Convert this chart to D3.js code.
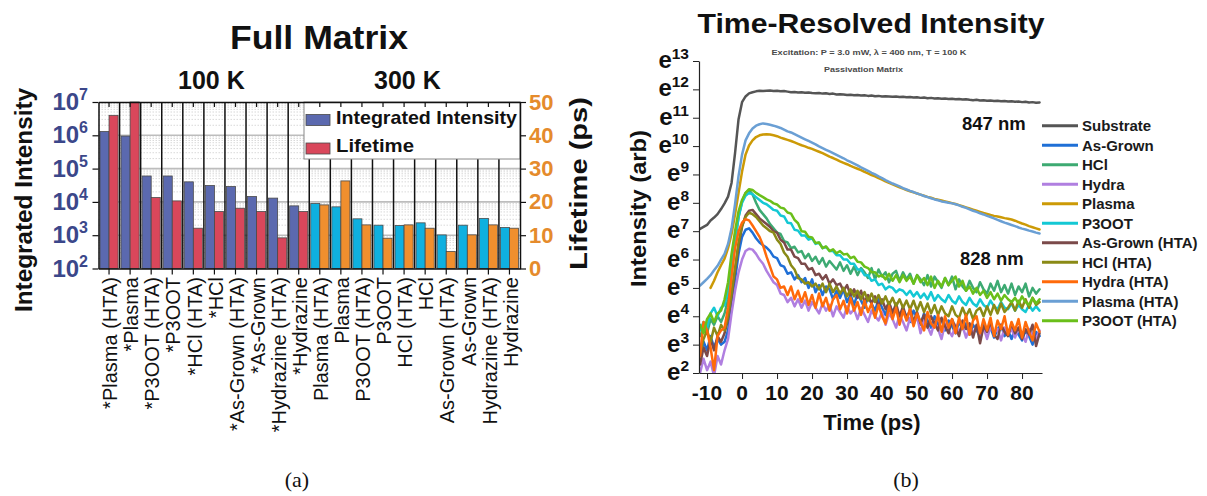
<!DOCTYPE html>
<html>
<head>
<meta charset="utf-8">
<script src="https://cdn.jsdelivr.net/npm/d3@7"></script>
<style>
  body { margin: 0; background: #fff; }
  svg { display: block; font-family: "Liberation Sans", Arial, sans-serif; }
</style>
</head>
<body>
<svg id="chart" width="1207" height="496"></svg>
<script>
// ---------------- Panel (a): integrated intensity and lifetime per sample ----------------
const categories = [
  "*Plasma (HTA)", "*Plasma", "*P3OOT (HTA)", "*P3OOT", "*HCl (HTA)", "*HCl",
  "*As-Grown (HTA)", "*As-Grown", "*Hydrazine (HTA)", "*Hydrazine",
  "Plasma (HTA)", "Plasma", "P3OOT (HTA)", "P3OOT", "HCl  (HTA)", "HCl",
  "As-Grown (HTA)", "As-Grown", "Hydrazine (HTA)", "Hydrazine"
];
const temperatureGroups = ["100 K", "300 K"];
const integratedIntensity = [
  1.3e6, 9.5e5, 6.0e4, 6.0e4, 4.0e4, 3.1e4, 2.9e4, 1.45e4, 1.3e4, 7.6e3,
  8.9e3, 7.1e3, 3.1e3, 2.0e3, 1.95e3, 2.35e3, 1.02e3, 2.0e3, 3.2e3, 1.7e3
];
const lifetimePs = [
  46.0, 50.0, 21.3, 20.3, 12.1, 17.1, 18.1, 17.1, 9.2, 17.1,
  19.1, 26.3, 13.1, 9.1, 13.1, 12.1, 5.1, 10.1, 13.1, 12.1
];
const intensityTicks = [1e2, 1e3, 1e4, 1e5, 1e6, 1e7];
const lifetimeTicks = [0, 10, 20, 30, 40, 50];

// ---------------- Panel (b): time-resolved PL, ln(intensity) vs time ----------------
const timePs = [
  -12,-11,-10,-9,-8,-7,-6,-5,-4,-3,
  -2,-1,0,1,2,3,4,5,6,7,
  8,9,10,11,12,13,14,15,16,17,
  18,19,20,21,22,23,24,25,26,27,
  28,29,30,31,32,33,34,35,36,37,
  38,39,40,41,42,43,44,45,46,47,
  48,49,50,51,52,53,54,55,56,57,
  58,59,60,61,62,63,64,65,66,67,
  68,69,70,71,72,73,74,75,76,77,
  78,79,80,81,82,83,84,85
];
const substrateLn = [
  7.08,7.15,7.22,7.38,7.48,7.6,7.78,7.98,8.22,8.7,
  9.75,10.95,11.55,11.75,11.86,11.9,11.93,11.95,11.94,11.95,
  11.96,11.94,11.95,11.93,11.94,11.92,11.9,11.91,11.89,11.9,
  11.88,11.89,11.87,11.86,11.87,11.85,11.86,11.84,11.85,11.82,
  11.83,11.82,11.8,11.81,11.79,11.8,11.78,11.79,11.77,11.78,
  11.76,11.77,11.75,11.76,11.75,11.74,11.75,11.73,11.74,11.72,
  11.73,11.71,11.72,11.7,11.71,11.69,11.7,11.68,11.69,11.67,
  11.68,11.66,11.67,11.65,11.66,11.64,11.65,11.63,11.62,11.63,
  11.61,11.62,11.6,11.61,11.59,11.6,11.58,11.59,11.57,11.58,
  11.56,11.57,11.55,11.56,11.54,11.55,11.53,11.54
];
const asGrownLn = [
  2.6,3.1,2.8,3.3,2.9,3.2,3.0,3.1,3.5,4.3,
  5.3,6.2,6.8,7.05,7.1,6.95,6.75,6.6,6.5,6.42,
  6.3,6.1,6.05,5.8,5.75,5.5,5.55,5.3,5.45,5.2,
  5.35,5.0,5.3,4.85,5.1,4.75,5.05,4.95,4.6,4.9,
  4.65,4.95,4.5,4.75,4.4,4.8,4.55,4.3,4.7,4.45,
  4.2,4.6,4.3,4.05,4.45,4.15,4.35,3.9,4.25,4.0,
  3.8,4.2,3.95,3.7,4.1,3.85,3.6,4.0,3.7,3.9,
  3.5,3.85,3.65,3.4,3.8,3.55,3.75,3.35,3.7,3.5,
  3.3,3.75,3.45,3.6,3.25,3.55,3.7,3.3,3.5,3.2,
  3.55,3.35,3.15,3.5,3.3,3.0,3.45,3.3
];
const hclLn = [
  3.3,3.6,3.4,3.9,3.7,4.0,3.8,4.1,4.6,5.5,
  6.6,7.5,8.05,8.35,8.45,8.3,8.0,7.75,7.6,7.45,
  7.25,7.1,6.95,6.9,6.65,6.6,6.4,6.45,6.25,6.3,
  6.05,6.2,5.95,6.1,5.85,6.05,5.75,5.95,5.8,5.65,
  5.9,5.6,5.8,5.5,5.75,5.45,5.7,5.55,5.35,5.7,
  5.3,5.65,5.4,5.55,5.2,5.5,5.6,5.25,5.55,5.3,
  5.5,5.15,5.45,5.3,5.1,5.45,5.05,5.4,5.2,5.0,
  5.35,5.1,5.4,4.95,5.3,5.05,4.9,5.25,5.0,4.85,
  5.2,4.95,4.8,5.15,4.9,5.25,4.85,5.1,4.8,5.15,
  4.75,5.05,4.85,5.15,4.7,5.0,4.8,4.95
];
const hydraLn = [
  2.0,2.5,2.1,2.4,1.9,2.6,2.3,2.8,3.2,4.1,
  4.9,5.55,6.0,6.3,6.38,6.35,6.2,6.0,5.85,5.6,
  5.4,5.2,5.1,4.8,4.75,4.5,4.65,4.35,4.6,4.3,
  4.55,4.2,4.5,4.3,4.1,4.45,4.2,4.4,4.0,4.35,
  4.15,3.95,4.35,4.1,4.25,3.9,4.3,4.05,3.8,4.2,
  4.0,3.85,4.15,3.7,4.1,3.9,3.6,4.05,3.8,3.5,
  3.95,3.7,4.0,3.4,3.85,3.65,3.35,3.8,3.55,3.2,
  3.75,3.5,3.3,3.7,3.45,3.65,3.25,3.6,3.4,3.65,
  3.3,3.6,3.2,3.65,3.4,3.55,3.15,3.6,3.35,3.55,
  3.25,3.6,3.35,3.1,3.55,3.35,3.2,3.5
];
const plasmaLn = [
  null,null,null,5.0,5.25,5.55,5.8,6.03,6.4,6.9,
  7.6,8.35,9.1,9.7,10.02,10.2,10.32,10.38,10.41,10.42,
  10.41,10.38,10.35,10.3,10.26,10.22,10.18,10.13,10.08,10.03,
  9.99,9.94,9.9,9.85,9.8,9.75,9.69,9.63,9.58,9.52,
  9.46,9.41,9.36,9.3,9.25,9.2,9.15,9.09,9.04,8.98,
  8.93,8.87,8.82,8.76,8.7,8.65,8.6,8.55,8.5,8.45,
  8.41,8.37,8.33,8.29,8.25,8.21,8.18,8.14,8.11,8.08,
  8.05,8.02,7.99,7.96,7.92,7.88,7.84,7.8,7.76,7.72,
  7.68,7.64,7.61,7.57,7.54,7.52,7.49,7.46,7.44,7.41,
  7.37,7.32,7.27,7.23,7.18,7.14,7.1,7.06
];
const p3ootLn = [
  3.5,3.8,3.6,4.1,4.3,4.0,4.3,4.4,4.9,5.7,
  6.7,7.5,8.0,8.25,8.35,8.3,8.2,8.1,8.0,7.95,
  7.85,7.75,7.72,7.55,7.52,7.3,7.28,7.05,7.02,6.85,
  6.85,6.7,6.75,6.55,6.6,6.4,6.45,6.3,6.3,6.15,
  6.15,6.0,6.0,5.85,5.85,5.65,5.65,5.45,5.45,5.25,
  5.3,5.1,5.15,4.95,5.05,5.0,4.85,4.95,4.9,4.75,
  4.9,4.7,4.85,4.65,4.8,4.6,4.85,4.55,4.75,4.6,
  4.5,4.75,4.55,4.45,4.7,4.5,4.4,4.65,4.45,4.35,
  4.6,4.4,4.3,4.55,4.35,4.25,4.5,4.3,4.25,4.45,
  4.2,4.4,4.25,4.15,4.4,4.2,4.35,4.2
];
const asGrownHtaLn = [
  2.3,2.9,2.6,3.2,2.8,3.3,3.1,3.4,3.9,4.7,
  5.6,6.5,7.15,7.55,7.72,7.75,7.6,7.45,7.35,7.25,
  7.15,7.0,6.95,6.7,6.6,6.35,6.35,6.1,6.05,5.85,
  5.85,5.65,5.7,5.45,5.5,5.3,5.45,5.15,5.3,5.1,
  5.15,4.9,5.1,4.75,4.95,4.65,4.9,4.5,4.75,4.45,
  4.7,4.35,4.6,4.25,4.5,4.1,4.45,4.0,4.35,3.9,
  4.25,3.8,4.15,3.75,4.05,3.6,4.0,3.75,3.5,3.95,
  3.65,3.4,3.9,3.6,3.3,3.85,3.55,3.75,3.25,3.7,
  3.05,3.65,3.45,3.8,3.35,3.2,3.7,3.45,3.3,3.75,
  3.4,3.6,3.2,3.55,3.35,3.7,2.95,3.4
];
const hclHtaLn = [
  2.7,3.2,3.5,3.1,3.6,3.3,3.7,3.5,4.0,4.8,
  5.7,6.6,7.2,7.5,7.65,7.6,7.5,7.35,7.2,7.1,
  7.0,6.95,6.7,6.55,6.25,6.1,5.8,5.65,5.35,5.3,
  5.15,5.2,5.05,5.15,4.95,5.15,4.85,5.15,4.85,5.05,
  4.8,5.0,4.7,4.95,4.7,4.9,4.6,4.85,4.55,4.8,
  4.5,4.75,4.45,4.7,4.4,4.65,4.35,4.6,4.3,4.55,
  4.25,4.55,4.2,4.5,4.15,4.45,4.1,4.4,4.05,4.35,
  4.1,4.0,4.35,4.05,3.95,4.3,4.0,4.25,3.9,4.2,
  4.3,4.0,4.35,4.05,4.4,4.1,4.45,4.15,4.3,4.5,
  4.2,4.55,4.3,4.6,4.3,4.65,4.4,4.5
];
const hydraHtaLn = [
  2.6,3.8,3.5,2.9,2.1,3.3,3.5,3.6,4.3,5.4,
  6.4,7.0,7.3,7.42,7.38,7.2,7.0,6.8,6.5,6.1,
  5.75,5.4,5.3,5.0,5.05,4.75,5.05,4.6,4.9,4.5,
  4.85,4.4,4.75,4.3,4.8,4.35,4.65,4.2,4.6,4.75,
  4.25,4.55,4.1,4.65,4.2,4.5,4.05,4.55,4.15,4.45,
  3.95,4.4,4.0,3.75,4.35,3.9,4.3,3.7,4.2,3.85,
  4.25,3.65,4.1,3.8,3.5,4.15,3.75,3.6,4.05,3.45,
  4.0,3.6,3.9,3.4,3.95,3.55,4.05,3.35,3.85,4.0,
  3.4,3.9,3.5,3.95,3.3,3.85,3.55,4.0,3.35,3.8,
  3.5,3.9,3.25,3.8,3.45,3.15,3.75,3.45
];
const plasmaHtaLn = [
  5.08,5.2,5.32,5.45,5.62,5.78,6.0,6.2,6.55,7.1,
  7.95,8.95,9.7,10.2,10.45,10.62,10.72,10.77,10.8,10.78,
  10.75,10.72,10.68,10.64,10.58,10.52,10.48,10.42,10.36,10.3,
  10.24,10.18,10.12,10.06,9.99,9.93,9.87,9.81,9.75,9.69,
  9.63,9.57,9.5,9.44,9.38,9.32,9.25,9.19,9.13,9.06,
  9.0,8.93,8.87,8.8,8.74,8.68,8.63,8.58,8.52,8.47,
  8.42,8.38,8.33,8.29,8.24,8.2,8.16,8.12,8.09,8.05,
  8.03,8.0,7.98,7.95,7.91,7.86,7.82,7.77,7.72,7.68,
  7.63,7.59,7.54,7.5,7.45,7.4,7.35,7.3,7.26,7.22,
  7.18,7.13,7.09,7.06,7.02,6.99,6.95,6.92
];
const p3ootHtaLn = [
  3.7,3.4,3.9,4.1,3.8,4.1,4.2,4.6,5.2,6.2,
  7.0,7.7,8.1,8.35,8.48,8.45,8.35,8.27,8.2,8.12,
  8.07,7.98,7.94,7.83,7.8,7.66,7.62,7.4,7.28,7.0,
  6.98,6.8,6.78,6.58,6.6,6.4,6.46,6.3,6.36,6.22,
  6.3,6.18,6.2,6.05,6.1,5.92,5.9,5.75,5.7,5.55,
  5.55,5.4,5.45,5.3,5.5,5.25,5.45,5.2,5.45,5.25,
  5.4,5.15,5.45,5.2,5.35,5.1,5.4,5.0,5.25,5.05,
  5.35,5.1,5.25,5.4,5.05,5.25,4.9,5.05,4.8,5.0,
  4.75,4.9,4.65,4.85,4.6,4.8,4.55,4.75,4.6,4.5,
  4.65,4.45,4.7,4.5,4.4,4.65,4.45,4.6
];
const seriesNames = [
  "Substrate", "As-Grown", "HCl", "Hydra", "Plasma", "P3OOT",
  "As-Grown (HTA)", "HCl (HTA)", "Hydra (HTA)", "Plasma (HTA)", "P3OOT (HTA)"
];
const seriesValues = [
  substrateLn, asGrownLn, hclLn, hydraLn, plasmaLn, p3ootLn,
  asGrownHtaLn, hclHtaLn, hydraHtaLn, plasmaHtaLn, p3ootHtaLn
];
const seriesColors = [
  "#555555", "#1f6fd6", "#3daa72", "#b07fe0", "#cc9a06", "#14c8d4",
  "#7b4a4a", "#8a8a16", "#ff6a0a", "#6a9fd4", "#6abf1a"
];
const lnTicks = d3.range(2, 14);
const timeTicks = [-10, 0, 10, 20, 30, 40, 50, 60, 70, 80];

// ---------------- drawing ----------------
const svg = d3.select("#chart");

// ===== Panel (a) =====
const A = { left: 98.5, right: 520, top: 102, bottom: 268.5 };
const x = d3.scaleBand().domain(categories).range([A.left, A.right]);
const yI = d3.scaleLog().domain([1e2, 1e7]).range([A.bottom, A.top]);
const yL = d3.scaleLinear().domain([0, 50]).range([A.bottom, A.top]);
const is300 = (i) => i >= 10;

const gA = svg.append("g");

// minor (dotted) and major grid lines on the log axis
const minorVals = [];
for (let k = 2; k < 7; k++) for (let m = 2; m <= 9; m++) minorVals.push(m * Math.pow(10, k));
gA.append("g").selectAll("line").data(minorVals).join("line")
  .attr("x1", A.left).attr("x2", A.right)
  .attr("y1", d => yI(d)).attr("y2", d => yI(d))
  .attr("stroke", "#cfcfcf").attr("stroke-width", 0.8).attr("stroke-dasharray", "1.5,1.5");
gA.append("g").selectAll("line").data(intensityTicks.slice(1, -1)).join("line")
  .attr("x1", A.left).attr("x2", A.right)
  .attr("y1", d => yI(d)).attr("y2", d => yI(d))
  .attr("stroke", "#bdbdbd").attr("stroke-width", 1.6);

// category separators
gA.append("g").selectAll("line").data(categories.slice(1)).join("line")
  .attr("x1", d => x(d)).attr("x2", d => x(d))
  .attr("y1", A.top).attr("y2", A.bottom)
  .attr("stroke", "#111").attr("stroke-width", 1.5);

// bars
const barW = x.bandwidth() * 0.43;
const cx = (c) => x(c) + x.bandwidth() / 2;
gA.append("g").selectAll("rect").data(categories).join("rect")
  .attr("x", d => cx(d) - barW)
  .attr("y", (d, i) => yI(integratedIntensity[i]))
  .attr("width", barW)
  .attr("height", (d, i) => A.bottom - yI(integratedIntensity[i]))
  .attr("fill", (d, i) => is300(i) ? "#0fb0e0" : "#5b69af")
  .attr("stroke", "#4a4a4a").attr("stroke-width", 0.8);
gA.append("g").selectAll("rect").data(categories).join("rect")
  .attr("x", d => cx(d))
  .attr("y", (d, i) => yL(lifetimePs[i]))
  .attr("width", barW)
  .attr("height", (d, i) => A.bottom - yL(lifetimePs[i]))
  .attr("fill", (d, i) => is300(i) ? "#f08f2e" : "#d9475b")
  .attr("stroke", "#4a4a4a").attr("stroke-width", 0.8);

// legend box
const lg = gA.append("g");
lg.append("rect").attr("x", 304).attr("y", A.top).attr("width", A.right - 304).attr("height", 57)
  .attr("fill", "#fff").attr("stroke", "#8a8a8a").attr("stroke-width", 1);
[["Integrated Intensity", "#5b69af", 120.5, 181], ["Lifetime", "#d9475b", 149, 78]].forEach(([t, c, yy, len]) => {
  lg.append("rect").attr("x", 306).attr("y", yy - 6).attr("width", 24).attr("height", 11)
    .attr("fill", c).attr("stroke", "#4a4a4a").attr("stroke-width", 0.8);
  lg.append("text").attr("x", 336).attr("y", yy + 3).text(t)
    .attr("font-size", 18.5).attr("font-weight", "bold").attr("fill", "#111")
    .attr("textLength", len).attr("lengthAdjust", "spacingAndGlyphs");
});

// axes
const axL = gA.append("g").attr("transform", `translate(${A.left},0)`);
axL.call(d3.axisLeft(yI).tickValues(minorVals).tickSize(3).tickSizeOuter(0).tickFormat(""));
axL.call(d3.axisLeft(yI).tickValues(intensityTicks).tickSize(6).tickSizeOuter(0).tickFormat(""));
const axR = gA.append("g").attr("transform", `translate(${A.right},0)`);
axR.call(d3.axisRight(yL).tickValues(d3.range(0, 51, 2)).tickSize(3).tickSizeOuter(0).tickFormat(""));
axR.call(d3.axisRight(yL).tickValues(lifetimeTicks).tickSize(6).tickSizeOuter(0).tickFormat(""));
const axB = gA.append("g").attr("transform", `translate(0,${A.bottom})`);
axB.call(d3.axisBottom(x).tickSize(6).tickSizeOuter(0).tickFormat(""));
const axT = gA.append("g").attr("transform", `translate(0,${A.top})`);
axT.call(d3.axisTop(x).tickSize(-5).tickSizeOuter(0).tickFormat(""));
gA.selectAll(".domain").attr("stroke", "#111").attr("stroke-width", 1.5);
gA.selectAll(".tick line").attr("stroke", "#111").attr("stroke-width", 1.2);

// log tick labels (10^n)
const yLabs = gA.append("g").attr("font-weight", "bold").attr("fill", "#3b478a");
intensityTicks.forEach(v => {
  const t = yLabs.append("text").attr("x", 88).attr("y", yI(v) + 8).attr("text-anchor", "end");
  t.append("tspan").text("10").attr("font-size", 24);
  t.append("tspan").text(Math.round(Math.log10(v))).attr("font-size", 16).attr("dy", -10);
});
// lifetime tick labels
gA.append("g").selectAll("text").data(lifetimeTicks).join("text")
  .attr("x", 529).attr("y", d => yL(d) + 7.5).text(d => d)
  .attr("font-size", 22).attr("font-weight", "bold").attr("fill", "#e58b2c");

// category labels
gA.append("g").selectAll("text").data(categories).join("text")
  .attr("transform", d => `translate(${cx(d) + 1},277) rotate(-90)`)
  .attr("text-anchor", "end").attr("dy", "0.36em")
  .attr("font-size", 20).attr("fill", "#111").text(d => d);

// titles
gA.append("text").attr("x", 319).attr("y", 49).attr("text-anchor", "middle")
  .attr("font-size", 34).attr("font-weight", "bold").attr("fill", "#111")
  .attr("textLength", 178).attr("lengthAdjust", "spacingAndGlyphs").text("Full Matrix");
gA.append("text").attr("x", 178).attr("y", 89).attr("font-size", 25).attr("font-weight", "bold")
  .attr("fill", "#111").text(temperatureGroups[0]);
gA.append("text").attr("x", 374).attr("y", 89).attr("font-size", 25).attr("font-weight", "bold")
  .attr("fill", "#111").text(temperatureGroups[1]);
gA.append("text").attr("transform", "translate(32,200) rotate(-90)").attr("text-anchor", "middle")
  .attr("font-size", 23).attr("font-weight", "bold").attr("fill", "#111")
  .attr("textLength", 224).attr("lengthAdjust", "spacingAndGlyphs").text("Integrated Intensity");
gA.append("text").attr("transform", "translate(587,183.5) rotate(-90)").attr("text-anchor", "middle")
  .attr("font-size", 23).attr("font-weight", "bold").attr("fill", "#111")
  .attr("textLength", 173).attr("lengthAdjust", "spacingAndGlyphs").text("Lifetime (ps)");

// ===== Panel (b) =====
const B = { left: 699, right: 1042, top: 61, bottom: 373 };
const xt = d3.scaleLinear().domain([-12.3, 85.7]).range([B.left, B.right]);
const yn = d3.scaleLinear().domain([2, 13]).range([B.bottom, B.top]);
const gB = svg.append("g");

gB.append("defs").append("clipPath").attr("id", "plotClip")
  .append("rect").attr("x", B.left).attr("y", B.top - 5).attr("width", B.right - B.left + 2).attr("height", B.bottom - B.top + 5);

const line = d3.line()
  .defined(d => d[1] !== null)
  .x(d => xt(d[0])).y(d => yn(d[1]));
const curves = gB.append("g").attr("clip-path", "url(#plotClip)");
seriesValues.forEach((vals, s) => {
  curves.append("path")
    .datum(timePs.map((t, i) => [t, vals[i]]))
    .attr("d", line)
    .attr("fill", "none").attr("stroke", seriesColors[s])
    .attr("stroke-width", 2.5).attr("stroke-linejoin", "round").attr("stroke-linecap", "round");
});

// axes of panel (b)
const bxL = gB.append("g").attr("transform", `translate(${B.left},0)`);
bxL.call(d3.axisLeft(yn).tickValues(d3.range(20, 131, 2).map(v => v / 10)).tickSize(3).tickSizeOuter(0).tickFormat(""));
bxL.call(d3.axisLeft(yn).tickValues(lnTicks).tickSize(6).tickSizeOuter(0).tickFormat(""));
const bxB = gB.append("g").attr("transform", `translate(0,${B.bottom})`);
bxB.call(d3.axisBottom(xt).tickValues(d3.range(-12, 86, 2)).tickSize(3).tickSizeOuter(0).tickFormat(""));
bxB.call(d3.axisBottom(xt).tickValues(timeTicks).tickSize(6).tickSizeOuter(0).tickFormat(""));
gB.selectAll(".domain").attr("stroke", "#222").attr("stroke-width", 1.2);
gB.selectAll(".tick line").attr("stroke", "#222").attr("stroke-width", 1);

// e^n tick labels
const eLabs = gB.append("g").attr("font-weight", "bold").attr("fill", "#111");
lnTicks.forEach(v => {
  const t = eLabs.append("text").attr("x", 689).attr("y", yn(v) + 7).attr("text-anchor", "end");
  t.append("tspan").text("e").attr("font-size", 24);
  t.append("tspan").text(v).attr("font-size", 15.5).attr("dy", -9);
});
gB.append("g").selectAll("text").data(timeTicks).join("text")
  .attr("x", d => xt(d)).attr("y", 400).attr("text-anchor", "middle")
  .attr("font-size", 21).attr("font-weight", "bold").attr("fill", "#111").text(d => d);

gB.append("text").attr("x", 872).attr("y", 430).attr("text-anchor", "middle")
  .attr("font-size", 22).attr("font-weight", "bold").attr("fill", "#111").text("Time (ps)");
gB.append("text").attr("transform", "translate(646,208.5) rotate(-90)").attr("text-anchor", "middle")
  .attr("font-size", 22).attr("font-weight", "bold").attr("fill", "#111")
  .attr("textLength", 157).attr("lengthAdjust", "spacingAndGlyphs").text("Intensity (arb)");

gB.append("text").attr("x", 871).attr("y", 33).attr("text-anchor", "middle")
  .attr("font-size", 28).attr("font-weight", "bold").attr("fill", "#111")
  .attr("textLength", 347).attr("lengthAdjust", "spacingAndGlyphs").text("Time-Resolved Intensity");
gB.append("text").attr("x", 869).attr("y", 54.5).attr("text-anchor", "middle")
  .attr("font-size", 7.5).attr("font-weight", "bold").attr("fill", "#4a4a4a")
  .attr("textLength", 195).attr("lengthAdjust", "spacingAndGlyphs")
  .text("Excitation: P = 3.0 mW, \u03bb = 400 nm, T = 100 K");
gB.append("text").attr("x", 863.5).attr("y", 72).attr("text-anchor", "middle")
  .attr("font-size", 7.5).attr("font-weight", "bold").attr("fill", "#4a4a4a")
  .attr("textLength", 79).attr("lengthAdjust", "spacingAndGlyphs").text("Passivation Matrix");

gB.append("text").attr("x", 962).attr("y", 129.5).attr("font-size", 18.5).attr("font-weight", "bold")
  .attr("fill", "#111").text("847 nm");
gB.append("text").attr("x", 960).attr("y", 264.5).attr("font-size", 18.5).attr("font-weight", "bold")
  .attr("fill", "#111").text("828 nm");

// legend of panel (b)
const lgB = gB.append("g");
seriesNames.forEach((n, i) => {
  const yy = 125.7 + i * 19.5;
  lgB.append("line").attr("x1", 1042).attr("x2", 1078).attr("y1", yy).attr("y2", yy)
    .attr("stroke", seriesColors[i]).attr("stroke-width", 3);
  lgB.append("text").attr("x", 1082).attr("y", yy).attr("dy", "0.36em")
    .attr("font-size", 15).attr("font-weight", "bold").attr("fill", "#1a1a1a").text(n);
});

// sub-figure captions
svg.append("text").attr("x", 297).attr("y", 487).attr("text-anchor", "middle")
  .attr("font-family", '"Liberation Serif", "DejaVu Serif", serif').attr("font-size", 22).attr("fill", "#111").text("(a)");
svg.append("text").attr("x", 906).attr("y", 487).attr("text-anchor", "middle")
  .attr("font-family", '"Liberation Serif", "DejaVu Serif", serif').attr("font-size", 22).attr("fill", "#111").text("(b)");
</script>
</body>
</html>
